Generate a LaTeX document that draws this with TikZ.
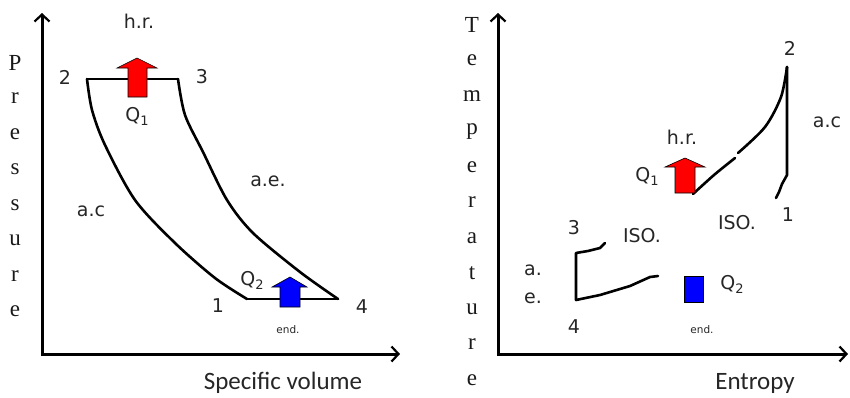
\documentclass[tikz,border=0pt]{standalone}
\usepackage{fontspec}
\setmainfont{Liberation Serif}
\newfontfamily\labfont{DejaVu Sans}
\newfontfamily\calfont{Carlito}
\usetikzlibrary{arrows.meta}
\newcommand{\sbs}[1]{{\fontsize{13}{13}\selectfont\raisebox{-4pt}{#1}}}
\begin{document}
\begin{tikzpicture}[x=1pt,y=-1pt,
  axisline/.style={line width=3pt,{Straight Barb[length=7pt,width=15pt,line width=2.2pt]}-{Straight Barb[length=7pt,width=15pt,line width=2.2pt]}},
  cyc/.style={line width=2.6pt,line join=round,line cap=round},
  lab/.style={font=\labfont\fontsize{19}{19}\selectfont,text=black!85,inner sep=0pt},
  axl/.style={font=\fontsize{23}{23}\selectfont,text=black!90,inner sep=0pt},
  tiny/.style={font=\labfont\fontsize{10.5}{10.5}\selectfont,text=black!85,inner sep=0pt},
  caption/.style={font=\calfont\fontsize{25}{25}\selectfont,text=black!85,inner sep=0pt},
  redarrow/.style={fill=red,draw=black,line width=0.6pt},
  bluearrow/.style={fill=blue,draw=black,line width=0.6pt}]
\useasboundingbox (0,0) rectangle (850,397);

% ---------------- left: P-v diagram ----------------
\coordinate (Ltop) at (42,13);
\coordinate (Lo) at (42,354);
\coordinate (Lright) at (400,354);
\draw[axisline] (Ltop) -- (Lo) -- (Lright);
\foreach \c [count=\i] in {P,r,e,s,s,u,r,e}
  \node[axl] (pl\i) at (15,{63+35.5*(\i-1)}) {\c};
\node[caption] (sv) at (283,383) {Specific volume};

\coordinate (p2) at (87,79);
\coordinate (p3) at (178,79);
\coordinate (p1) at (247,299);
\coordinate (p4) at (338,299);
\draw[cyc] (p2) -- (p3);
\draw[cyc] plot[smooth] coordinates {(87,79) (92,110) (105,145) (135,200) (175,243) (215,278) (247,299)};
\draw[cyc] (p1) -- (p4);
\draw[cyc] plot[smooth] coordinates {(178,79) (185,115) (203,152) (227,200) (253,233) (300,272) (338,299)};

\draw[redarrow] (128,97) -- (128,68) -- (117,68) -- (137,58) -- (157,68) -- (147,68) -- (147,97) -- cycle;
\draw[bluearrow] (280,307) -- (280,287) -- (272,287) -- (290,277) -- (307,287) -- (300,287) -- (300,307) -- cycle;

\node[lab] (hrL) at (139,21) {h.r.};
\node[lab] (n2L) at (65,77) {2};
\node[lab] (n3L) at (202,77) {3};
\node[lab] (q1L) at (137,116) {Q\sbs{1}};
\node[lab] (acL) at (91,211) {a.c};
\node[lab] (aeL) at (268,181) {a.e.};
\node[lab] (q2L) at (252,280) {Q\sbs{2}};
\node[lab] (n1L) at (218,306) {1};
\node[lab] (n4L) at (362,307) {4};
\node[tiny] (endL) at (288,330) {end.};

% ---------------- right: T-s diagram ----------------
\coordinate (Rtop) at (498,13);
\coordinate (Ro) at (498,354);
\coordinate (Rright) at (848,354);
\draw[axisline] (Rtop) -- (Ro) -- (Rright);
\foreach \c [count=\i] in {T,e,m,p,e,r,a,t,u,r,e}
  \node[axl] (tl\i) at (472,{25+35.5*(\i-1)}) {\c};
\node[caption] (ent) at (755,383) {Entropy};

\coordinate (t2) at (787,67);
\draw[cyc] (t2) -- (787,175) -- (782,184) -- (779,192) -- (776,198);
\draw[cyc] plot[smooth] coordinates {(787,67) (781,97) (765,127) (738,153)};
\draw[cyc] plot[smooth] coordinates {(735,158) (714,175) (693,194)};
\draw[cyc] (605,243) -- (600,248) -- (588,251) -- (576,253) -- (576,300) -- (600,295) -- (630,286) -- (650,277) -- (658,276);

\draw[redarrow] (675,193) -- (675,167) -- (665,167) -- (685,158) -- (705,167) -- (695,167) -- (695,193) -- cycle;
\draw[bluearrow] (684,276) rectangle (703,302);

\node[lab] (n2R) at (790,48) {2};
\node[lab] (acR) at (827,122) {a.c};
\node[lab] (hrR) at (682,137) {h.r.};
\node[lab] (q1R) at (647,176) {Q\sbs{1}};
\node[lab] (n1R) at (788,215) {1};
\node[lab] (isoR) at (737,223) {ISO.};
\node[lab] (isoL) at (642,236) {ISO.};
\node[lab] (n3R) at (574,228) {3};
\node[lab] (n4R) at (574,327) {4};
\node[lab] (aR) at (533,270) {a.};
\node[lab] (eR) at (533,298) {e.};
\node[lab] (q2R) at (732,284) {Q\sbs{2}};
\node[tiny] (endR) at (702,330) {end.};
\end{tikzpicture}
\end{document}
